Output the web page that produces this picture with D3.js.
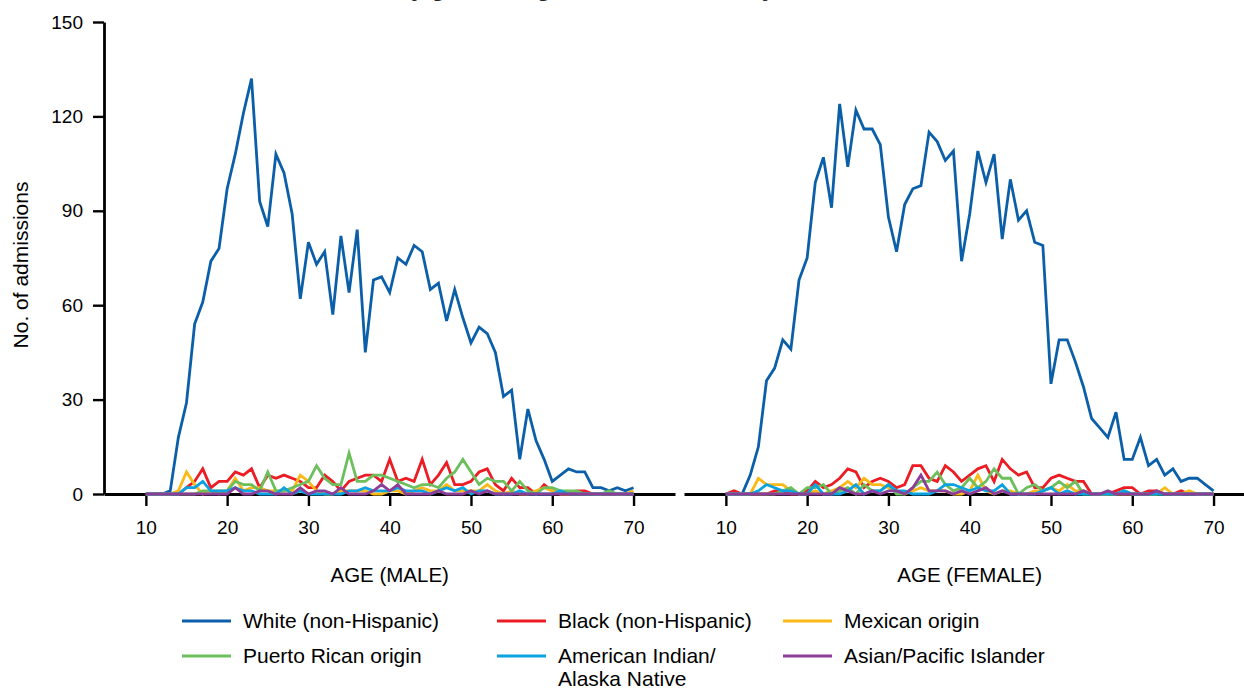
<!DOCTYPE html>
<html>
<head>
<meta charset="utf-8">
<script src="https://cdn.jsdelivr.net/npm/d3@7"></script>
<style>
  html, body { margin: 0; padding: 0; background: #fff; }
  svg { display: block; font-family: "Liberation Sans", Arial, sans-serif; }
</style>
</head>
<body>
<svg id="chart" width="1244" height="691"></svg>
<script>
const ages = [10,11,12,13,14,15,16,17,18,19,20,21,22,23,24,25,26,27,28,29,30,31,32,33,34,35,36,37,38,39,40,41,42,43,44,45,46,47,48,49,50,51,52,53,54,55,56,57,58,59,60,61,62,63,64,65,66,67,68,69,70];
const xTicks = [10, 20, 30, 40, 50, 60, 70];
const yTicks = [0, 30, 60, 90, 120, 150];

const seriesNames = ["White (non-Hispanic)", "Black (non-Hispanic)", "Mexican origin", "Puerto Rican origin", "American Indian/\nAlaska Native", "Asian/Pacific Islander"];
const seriesColors = ["#0b5fa8", "#ec1c24", "#fbb917", "#6cbf5c", "#0aa2e0", "#8c3d98"];

// MALE (ages 10..70)
const maleWhite    = [0,0,0,1,18,29,54,61,74,78,97,108,121,132,93,85,108,102,89,62,80,73,77,57,82,64,84,45,68,69,64,75,73,79,77,65,67,55,65,56,48,53,51,45,31,33,11,27,17,11,4,6,8,7,7,2,2,1,2,1,2];
const maleBlack    = [0,0,0,0,0,2,4,8,2,4,4,7,6,8,2,6,5,6,5,4,2,2,6,4,1,4,5,6,6,4,11,4,5,4,11,3,6,10,3,3,4,7,8,3,1,5,2,2,0,3,1,0,0,1,1,0,0,0,0,0,0];
const maleMexican  = [0,0,0,0,1,7,3,0,1,1,1,5,1,2,2,1,1,1,1,6,4,1,0,0,1,1,1,1,0,0,1,1,0,1,2,1,1,3,1,1,1,1,3,1,0,1,0,0,1,2,1,0,0,0,0,0,0,0,0,0,1];
const malePR       = [0,0,0,0,0,0,0,1,1,0,1,4,3,3,1,7,1,1,2,3,4,9,5,3,3,13,4,4,6,6,5,4,3,2,3,3,2,5,7,11,7,3,5,4,4,1,4,1,0,2,2,1,1,1,0,0,0,1,0,0,0];
const maleAI       = [0,0,0,0,0,2,2,4,1,1,1,2,1,1,0,0,0,2,0,1,0,0,0,0,0,1,1,2,1,1,1,2,1,1,1,0,1,2,1,2,0,1,1,0,0,0,1,0,0,0,0,1,0,0,0,0,0,0,0,0,0];
const maleAsian    = [0,0,0,0,0,0,0,0,0,0,0,2,0,0,1,1,0,0,0,2,0,1,1,0,2,0,0,0,1,3,1,3,0,0,0,0,1,0,0,0,1,0,1,0,0,0,0,0,0,0,0,0,0,0,0,0,0,0,0,0,0];

// FEMALE (ages 10..70)
const femaleWhite   = [0,0,0,6,15,36,40,49,46,68,75,99,107,91,124,104,122,116,116,111,88,77,92,97,98,115,112,106,109,74,89,109,99,108,81,100,87,90,80,79,35,49,49,42,34,24,21,18,26,11,11,18,9,11,6,8,4,5,5,3,1];
const femaleBlack   = [0,1,0,0,0,0,1,1,0,0,1,4,2,3,5,8,7,2,4,5,4,2,3,9,9,5,4,9,7,4,6,8,9,4,11,8,6,7,2,2,5,6,5,4,4,0,0,0,1,2,2,0,1,1,0,0,1,0,0,0,0];
const femaleMexican = [0,0,0,0,5,3,3,3,1,0,0,1,0,1,2,4,2,5,3,3,2,1,0,1,2,1,1,1,0,0,1,6,1,0,1,1,0,0,1,1,2,1,3,1,1,0,0,0,0,0,0,0,0,0,2,0,0,1,0,0,0];
const femalePR      = [0,0,0,0,0,0,0,1,2,0,2,2,3,0,1,2,0,3,1,1,3,0,0,2,4,4,7,3,1,2,5,2,4,8,5,5,0,2,3,1,2,4,2,4,0,0,0,0,0,1,0,0,0,0,0,0,0,0,0,0,0];
const femaleAI      = [0,0,0,0,1,3,2,1,1,0,0,3,0,0,0,1,3,0,1,1,3,1,1,0,0,0,1,3,3,2,1,2,1,1,3,0,0,0,0,1,2,0,1,0,0,0,0,0,0,1,0,0,0,0,0,0,0,0,0,0,0];
const femaleAsian   = [0,0,0,0,0,0,0,0,0,0,0,0,0,0,2,1,0,0,1,0,1,1,0,2,6,1,1,1,0,1,0,1,2,0,1,0,0,0,0,0,0,0,0,0,1,0,0,1,0,0,0,0,0,1,0,0,0,0,0,0,0];

const maleSeries = [maleWhite, maleBlack, maleMexican, malePR, maleAI, maleAsian];
const femaleSeries = [femaleWhite, femaleBlack, femaleMexican, femalePR, femaleAI, femaleAsian];

const svg = d3.select("#chart");
const FONT = "Liberation Sans, Arial, sans-serif";

// Title (cropped at the top edge, as in the reference)
const titleText = "Admissions by gender, age and race/ethnicity";
const title = svg.append("text")
  .attr("y", -4)
  .attr("font-size", 24)
  .attr("font-weight", "bold")
  .attr("fill", "#222")
  .text(titleText);
const tmp = svg.append("text").attr("font-size", 24).attr("font-weight", "bold").text("Admissions b");
const prefixW = tmp.node().getComputedTextLength();
tmp.remove();
title.attr("x", 411 - prefixW);

const y = d3.scaleLinear().domain([0, 150]).range([494, 22]);
const panelW = 571;
const panels = [
  { left: 104, data: maleSeries, label: "AGE (MALE)", yAxis: true },
  { left: 684, data: femaleSeries, label: "AGE (FEMALE)", yAxis: false }
];

panels.forEach(p => {
  const x = d3.scaleLinear().domain([4.85, 75.1]).range([0, panelW]);
  const g = svg.append("g").attr("transform", `translate(${p.left},0)`);

  const line = d3.line()
    .x((d, i) => x(ages[i]))
    .y(d => y(d));

  const xAxis = g.append("g")
    .attr("transform", `translate(0,${y(0)})`)
    .call(d3.axisBottom(x).tickValues(xTicks).tickSize(12).tickSizeOuter(0).tickPadding(15).tickFormat(d3.format("d")));
  xAxis.select(".domain").attr("stroke", "#000").attr("stroke-width", 2.8);
  xAxis.selectAll(".tick line").attr("stroke", "#000").attr("stroke-width", 2.4);
  xAxis.selectAll(".tick text").attr("font-size", 19).attr("fill", "#000").attr("font-family", FONT);

  if (p.yAxis) {
    const yAxis = g.append("g")
      .call(d3.axisLeft(y).tickValues(yTicks).tickSize(11).tickSizeOuter(0).tickPadding(10));
    yAxis.select(".domain").attr("stroke", "#000").attr("stroke-width", 2.8);
    yAxis.selectAll(".tick line").attr("stroke", "#000").attr("stroke-width", 2.4);
    yAxis.selectAll(".tick text").attr("font-size", 19).attr("fill", "#000").attr("font-family", FONT);
  }

  p.data.forEach((vals, si) => {
    g.append("path")
      .datum(vals)
      .attr("fill", "none")
      .attr("stroke", seriesColors[si])
      .attr("stroke-width", 2.8)
      .attr("stroke-linejoin", "miter")
      .attr("d", line);
  });

  g.append("text")
    .attr("x", x(40))
    .attr("y", 582)
    .attr("text-anchor", "middle")
    .attr("font-size", 20.5)
    .attr("fill", "#000")
    .text(p.label);
});

// y-axis title
svg.append("text")
  .attr("transform", "translate(28,265) rotate(-90)")
  .attr("text-anchor", "middle")
  .attr("font-size", 21)
  .attr("fill", "#000")
  .text("No. of admissions");

// Legend
const legendCols = [182, 497, 783];
const legendRows = [621, 656];
const legend = svg.append("g");
seriesNames.forEach((name, i) => {
  const cx = legendCols[i % 3];
  const cy = legendRows[Math.floor(i / 3)];
  legend.append("line")
    .attr("x1", cx).attr("x2", cx + 49)
    .attr("y1", cy).attr("y2", cy)
    .attr("stroke", seriesColors[i])
    .attr("stroke-width", 3);
  const t = legend.append("text")
    .attr("x", cx + 61)
    .attr("y", cy + 7)
    .attr("font-size", 21)
    .attr("fill", "#000");
  name.split("\n").forEach((part, k) => {
    t.append("tspan").attr("x", cx + 61).attr("dy", k === 0 ? 0 : 23).text(part);
  });
});
</script>
</body>
</html>
